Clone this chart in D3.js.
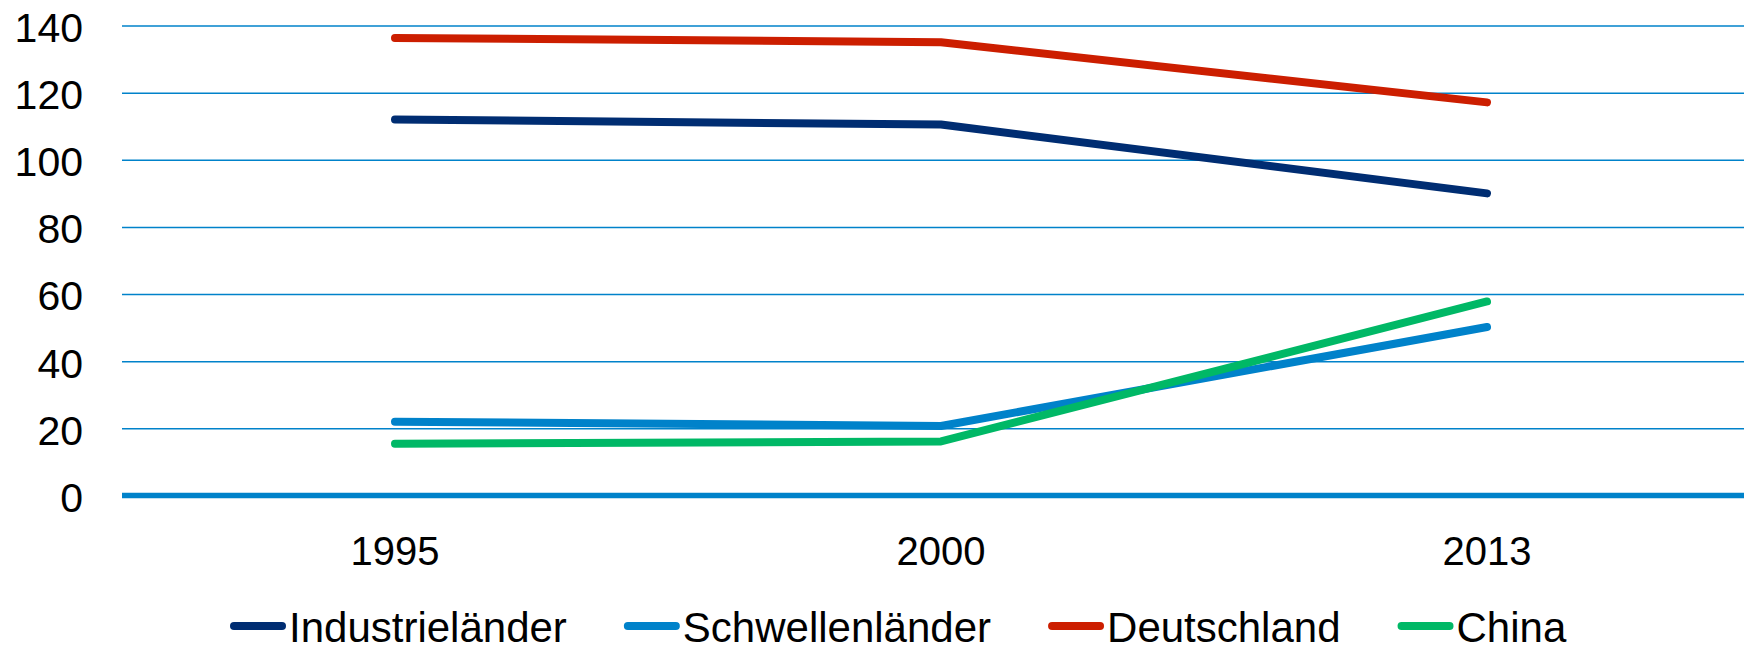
<!DOCTYPE html>
<html>
<head>
<meta charset="utf-8">
<script src="https://cdn.jsdelivr.net/npm/d3@7"></script>
<style>
  body { margin: 0; background: #fff; }
  svg { display: block; font-family: "Liberation Sans", Arial, sans-serif; }
</style>
</head>
<body>
<div class="chart"></div>
<script>
// categories and series
var years = ["1995", "2000", "2013"];
var seriesNames = ["Industrieländer", "Schwellenländer", "Deutschland", "China"];
var industrie = [112, 110.5, 90];
var schwellen = [22, 20.7, 50.2];
var deutschland = [136.3, 135, 117.1];
var china = [15.4, 16.1, 57.8];
var yTicks = [0, 20, 40, 60, 80, 100, 120, 140];

var colors = ["#002d72", "#0082ca", "#cc1e00", "#00b866"];
var allValues = [industrie, schwellen, deutschland, china];

var width = 1744, height = 650;

var svg = d3.select(".chart")
    .append("svg")
    .attr("width", width)
    .attr("height", height);

// scales
var xScale = d3.scalePoint().domain(years).range([122, 1760]).padding(0.5);
var yScale = d3.scaleLinear().domain([0, 140]).range([495.5, 25.5]);

// gridlines via axis
var grid = svg.append("g")
    .attr("transform", "translate(122,0)")
    .call(d3.axisLeft(yScale).tickValues(yTicks.filter(function(d){ return d > 0; }))
        .tickSize(-(width - 122)).tickFormat(""));
grid.select(".domain").remove();
grid.selectAll("line").attr("stroke", "#0082ca").attr("stroke-width", 1.5);

// y tick labels
svg.selectAll(".ylabel")
    .data(yTicks)
    .enter().append("text")
    .attr("class", "ylabel")
    .attr("x", 83)
    .attr("y", function(d){ return yScale(d); })
    .attr("dy", "0.40em")
    .attr("text-anchor", "end")
    .style("font-size", "41px")
    .attr("fill", "#000")
    .text(function(d){ return d; });

// zero line
svg.append("line")
    .attr("x1", 122).attr("x2", width)
    .attr("y1", yScale(0)).attr("y2", yScale(0))
    .attr("stroke", "#0082ca")
    .attr("stroke-width", 5.5);

// x labels
svg.selectAll(".xlabel")
    .data(years)
    .enter().append("text")
    .attr("class", "xlabel")
    .attr("x", function(d){ return xScale(d); })
    .attr("y", 565)
    .attr("text-anchor", "middle")
    .style("font-size", "40px")
    .attr("fill", "#000")
    .text(function(d){ return d; });

// series lines
var line = d3.line()
    .x(function(d, i){ return xScale(years[i]); })
    .y(function(d){ return yScale(d); });

allValues.forEach(function(vals, k){
    svg.append("path")
        .datum(vals)
        .attr("d", line)
        .attr("fill", "none")
        .attr("stroke", colors[k])
        .attr("stroke-width", 8)
        .attr("stroke-linecap", "round")
        .attr("stroke-linejoin", "round");
});

// legend
var lx = 230;
seriesNames.forEach(function(name, k){
    svg.append("line")
        .attr("x1", lx + 4).attr("x2", lx + 52)
        .attr("y1", 626).attr("y2", 626)
        .attr("stroke", colors[k])
        .attr("stroke-width", 8)
        .attr("stroke-linecap", "round");
    var t = svg.append("text")
        .attr("x", lx + 59)
        .attr("y", 642)
        .style("font-size", "42px")
        .attr("fill", "#000")
        .text(name);
    lx = lx + 59 + t.node().getComputedTextLength() + 57;
});
</script>
</body>
</html>
